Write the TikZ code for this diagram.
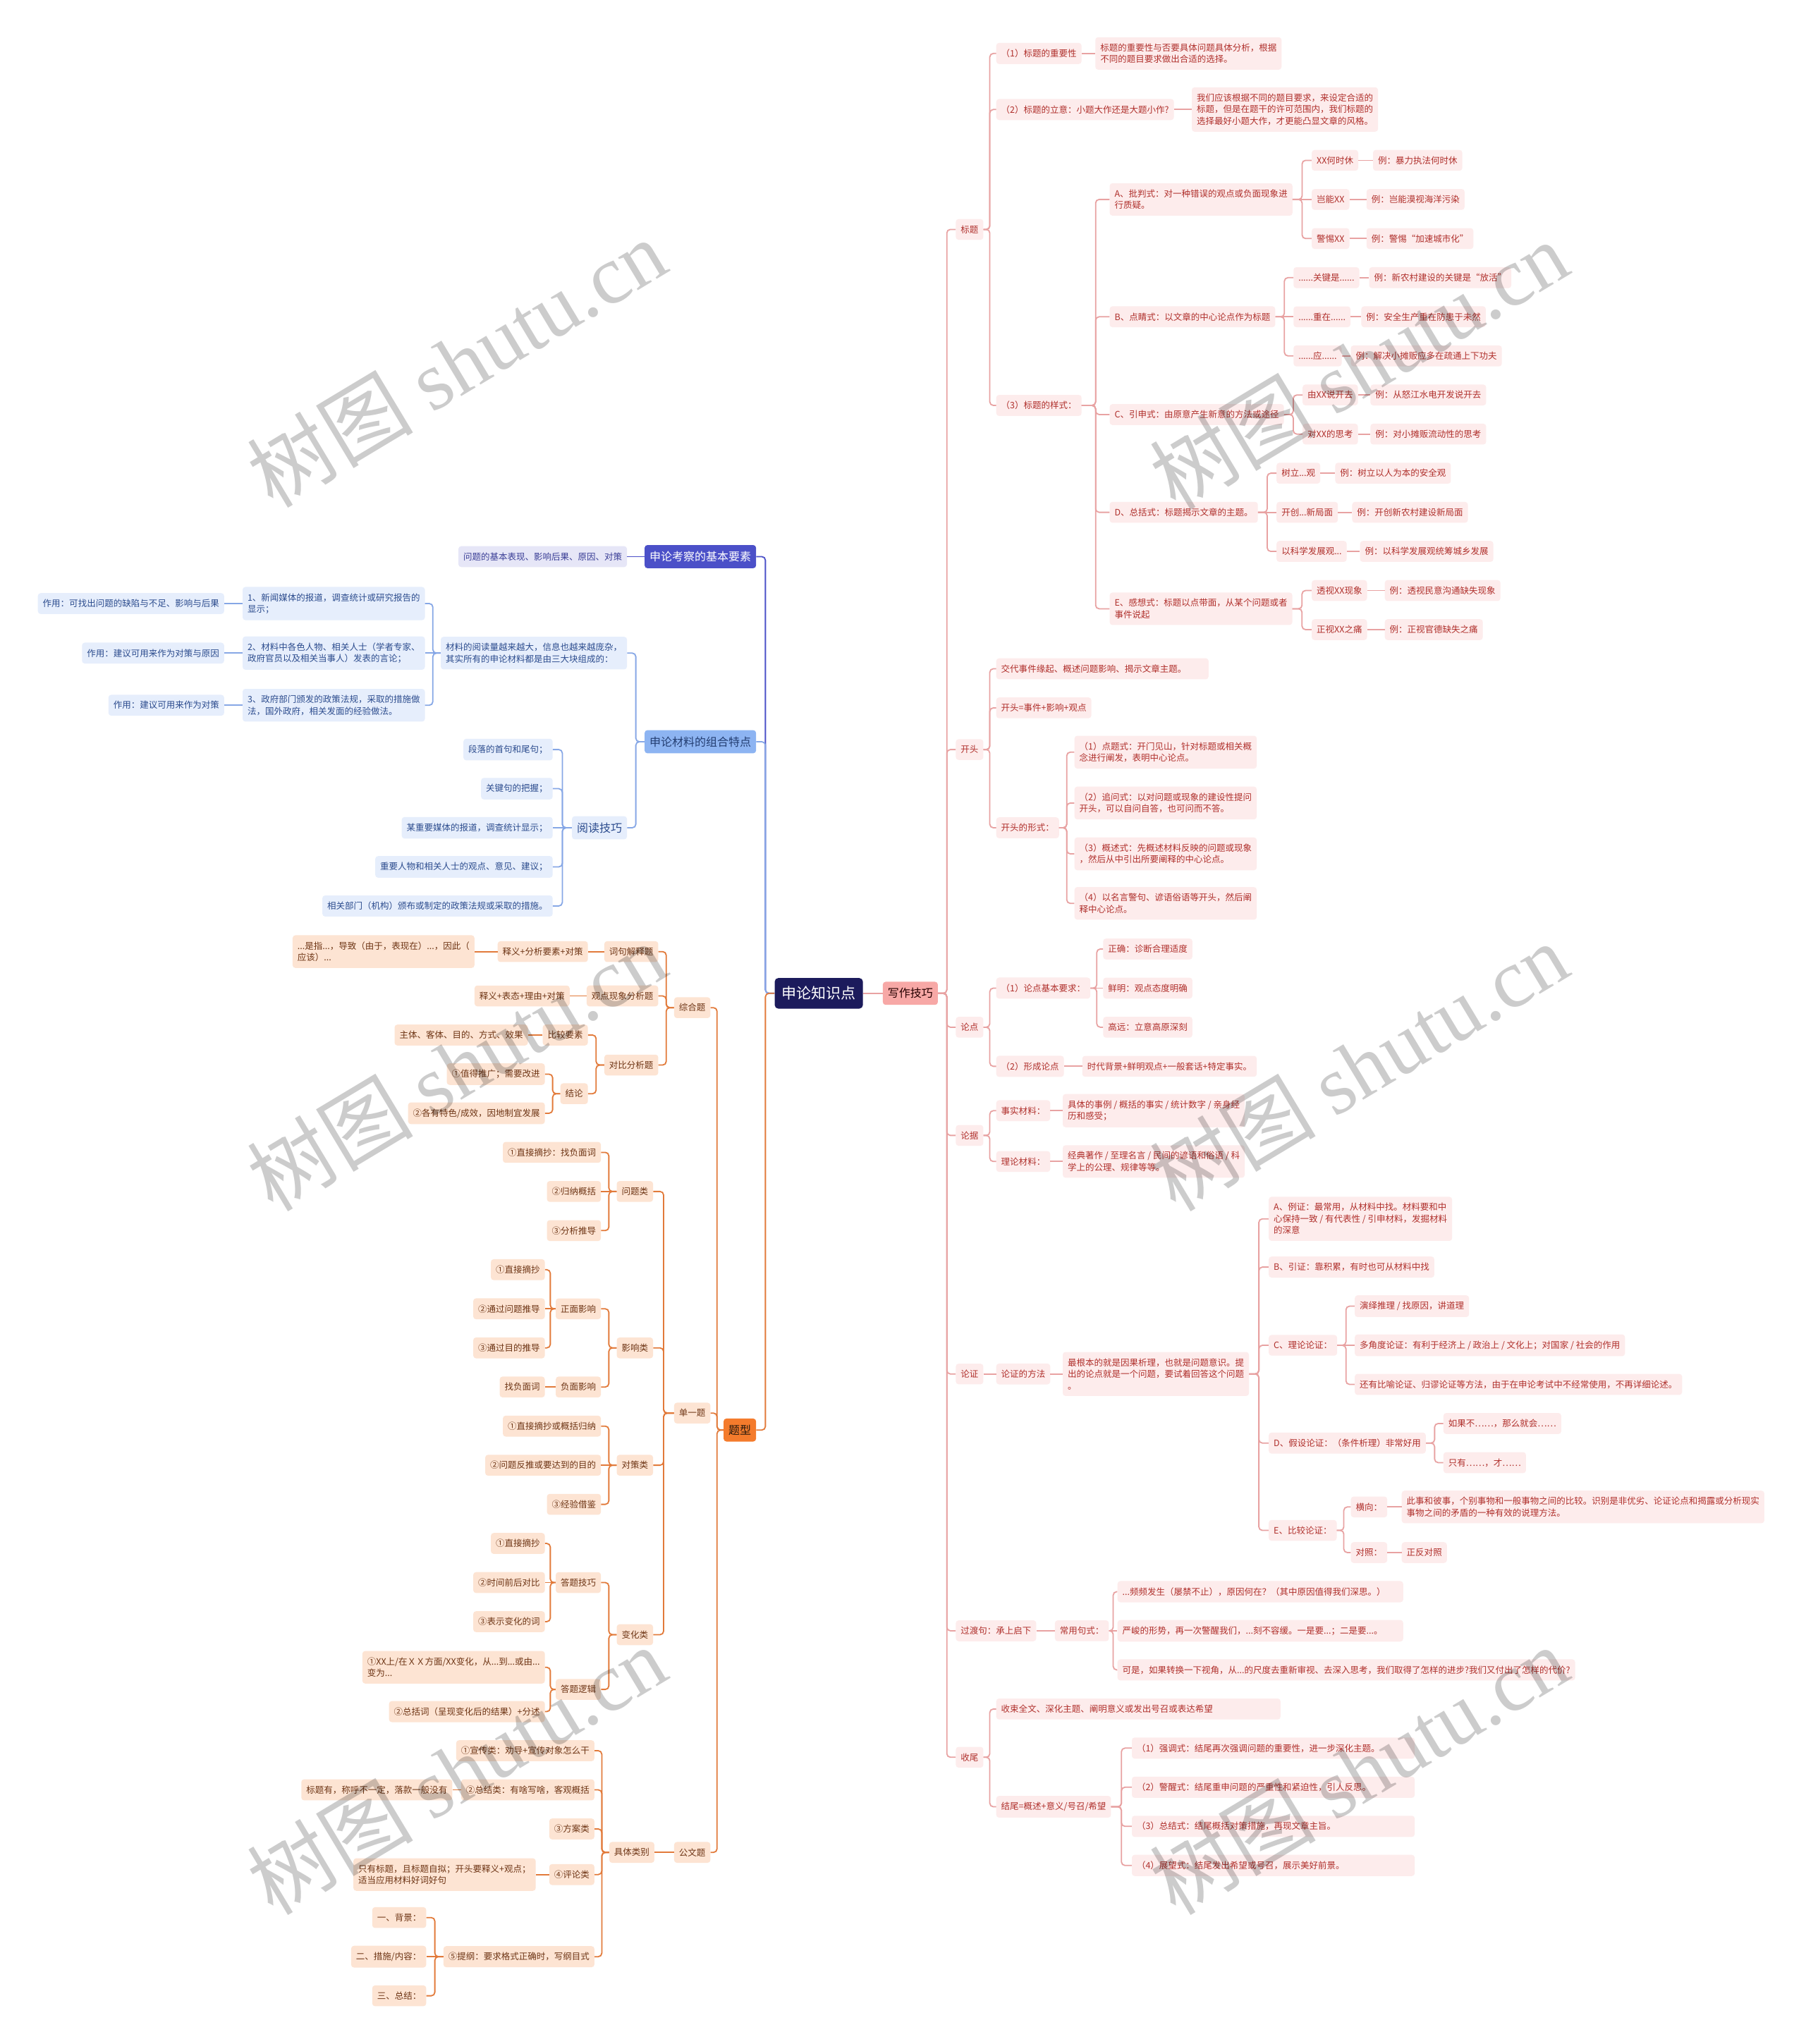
\documentclass[tikz,border=0pt]{standalone}
\usepackage{fontspec}
\setmainfont{Noto Sans CJK SC}
\newfontfamily\wmserif{Liberation Serif}
\usetikzlibrary{calc}
\definecolor{rline}{HTML}{E8A2A2}
\definecolor{rfill}{HTML}{FDECEC}
\definecolor{rtext}{HTML}{B0302C}
\definecolor{bline}{HTML}{86A7E6}
\definecolor{bfill}{HTML}{E6EEFC}
\definecolor{btext}{HTML}{2C4C8E}
\definecolor{iline}{HTML}{4B50C8}
\definecolor{ifill}{HTML}{E6E6F7}
\definecolor{itext}{HTML}{3A3E96}
\definecolor{oline}{HTML}{E27A3A}
\definecolor{ofill}{HTML}{FDE4D3}
\definecolor{otext}{HTML}{6E3515}
\definecolor{rootc}{HTML}{1C1B5C}
\definecolor{wzfill}{HTML}{F7A8A6}
\definecolor{txfill}{HTML}{F47B2C}
\definecolor{clfill}{HTML}{8DB4F2}
\newcommand\fsS{\fontsize{12.5}{16.5}\selectfont}
\newcommand\fsM{\fontsize{16}{20}\selectfont}
\newcommand\fsL{\fontsize{21}{25}\selectfont}
\newcommand\kidsR[3]{\foreach \kid in {#3}{\draw[#1] (#2.east) -- ($(#2.east)!0.5!(#2.east -| \kid.west)$) |- (\kid.west);}}
\newcommand\kidsL[3]{\foreach \kid in {#3}{\draw[#1] (#2.west) -- ($(#2.west)!0.5!(#2.west -| \kid.east)$) |- (\kid.east);}}
\newcommand\lineR[3]{\foreach \kid in {#3}{\draw[#1] (#2.east) -- (\kid.west);}}
\newcommand\lineL[3]{\foreach \kid in {#3}{\draw[#1] (#2.west) -- (\kid.east);}}
\begin{document}
\begin{tikzpicture}[x=1.8484pt,y=-1.8484pt,
  mbox/.style={rounded corners=4pt, inner xsep=7pt, inner ysep=9pt, align=left, font=\fsS},
  rn/.style={mbox, fill=rfill, text=rtext, anchor=west},
  bn/.style={mbox, fill=bfill, text=btext, anchor=east},
  vn/.style={mbox, fill=ifill, text=itext, anchor=east},
  orn/.style={mbox, fill=ofill, text=otext, anchor=east},
  rl/.style={draw=rline, line width=1.8pt, rounded corners=5pt},
  bl/.style={draw=bline, line width=1.8pt, rounded corners=5pt},
  il/.style={draw=iline, line width=1.8pt, rounded corners=5pt},
  ol/.style={draw=oline, line width=1.8pt, rounded corners=5pt},
  wm/.style={rotate=31, text=black, opacity=0.2, font=\fontsize{118}{118}\selectfont}]
\fill[white] (0,0) rectangle (1385,1568);
\useasboundingbox (0,0) rectangle (1385,1568);

% ---------- root ----------
\node[fill=rootc, text=white, rounded corners=5pt, inner xsep=10pt, inner ysep=12pt, font=\fsL] (root) at (628,762) {申论知识点};
\node[fill=wzfill, text=black!75!red!60!black, rounded corners=4pt, inner xsep=7pt, inner ysep=9pt, font=\fsM, anchor=west] (wz) at (677,762) {写作技巧};

% ---------- right level 1 ----------
\node[rn] (bt) at (733,176) {标题};
\node[rn] (kt) at (733,575) {开头};
\node[rn] (ld) at (733,788) {论点};
\node[rn] (lj) at (733,871) {论据};
\node[rn] (lz) at (733,1054) {论证};
\node[rn] (gd) at (733,1251) {过渡句：承上启下};
\node[rn] (sw) at (733,1348) {收尾};

% ---------- 标题 ----------
\node[rn] (bt1) at (764,41) {（1）标题的重要性};
\node[rn] (bt1d) at (840,41) {标题的重要性与否要具体问题具体分析，根据\\不同的题目要求做出合适的选择。};
\node[rn] (bt2) at (764,84) {（2）标题的立意：小题大作还是大题小作?};
\node[rn] (bt2d) at (914,84) {我们应该根据不同的题目要求，来设定合适的\\标题，但是在题干的许可范围内，我们标题的\\选择最好小题大作，才更能凸显文章的风格。};
\node[rn] (bt3) at (764,311) {（3）标题的样式：};

\node[rn] (tA) at (851,153) {A、批判式：对一种错误的观点或负面现象进\\行质疑。};
\node[rn] (tB) at (851,243) {B、点睛式：以文章的中心论点作为标题};
\node[rn] (tC) at (851,318) {C、引申式：由原意产生新意的方法或途径};
\node[rn] (tD) at (851,393) {D、总括式：标题揭示文章的主题。};
\node[rn] (tE) at (851,467) {E、感想式：标题以点带面，从某个问题或者\\事件说起};

\node[rn] (a1) at (1006,123) {XX何时休};
\node[rn] (a2) at (1006,153) {岂能XX};
\node[rn] (a3) at (1006,183) {警惕XX};
\node[rn] (a1e) at (1053,123) {例：暴力执法何时休};
\node[rn] (a2e) at (1048,153) {例：岂能漠视海洋污染};
\node[rn] (a3e) at (1048,183) {例：警惕“加速城市化”};

\node[rn] (b1) at (992,213) {......关键是......};
\node[rn] (b2) at (992,243) {......重在......};
\node[rn] (b3) at (992,273) {......应......};
\node[rn] (b1e) at (1050,213) {例：新农村建设的关键是“放活”};
\node[rn] (b2e) at (1044,243) {例：安全生产重在防患于未然};
\node[rn] (b3e) at (1036,273) {例：解决小摊贩应多在疏通上下功夫};

\node[rn] (c1) at (999,303) {由XX说开去};
\node[rn] (c2) at (999,333) {对XX的思考};
\node[rn] (c1e) at (1051,303) {例：从怒江水电开发说开去};
\node[rn] (c2e) at (1051,333) {例：对小摊贩流动性的思考};

\node[rn] (d1) at (979,363) {树立...观};
\node[rn] (d2) at (979,393) {开创...新局面};
\node[rn] (d3) at (979,423) {以科学发展观...};
\node[rn] (d1e) at (1024,363) {例：树立以人为本的安全观};
\node[rn] (d2e) at (1037,393) {例：开创新农村建设新局面};
\node[rn] (d3e) at (1043,423) {例：以科学发展观统筹城乡发展};

\node[rn] (e1) at (1006,453) {透视XX现象};
\node[rn] (e2) at (1006,483) {正视XX之痛};
\node[rn] (e1e) at (1062,453) {例：透视民意沟通缺失现象};
\node[rn] (e2e) at (1062,483) {例：正视官德缺失之痛};

% ---------- 开头 ----------
\node[rn, text width=287pt] (k1) at (764,513) {交代事件缘起、概述问题影响、揭示文章主题。};
\node[rn] (k2) at (764,543) {开头=事件+影响+观点};
\node[rn] (k3) at (764,635) {开头的形式：};
\node[rn] (k31) at (824,577) {（1）点题式：开门见山，针对标题或相关概\\念进行阐发，表明中心论点。};
\node[rn] (k32) at (824,616) {（2）追问式：以对问题或现象的建设性提问\\开头，可以自问自答，也可问而不答。};
\node[rn] (k33) at (824,655) {（3）概述式：先概述材料反映的问题或现象\\，然后从中引出所要阐释的中心论点。};
\node[rn] (k34) at (824,693) {（4）以名言警句、谚语俗语等开头，然后阐\\释中心论点。};

% ---------- 论点 ----------
\node[rn] (ld1) at (764,758) {（1）论点基本要求：};
\node[rn] (ld2) at (764,818) {（2）形成论点};
\node[rn] (ld11) at (846,728) {正确：诊断合理适度};
\node[rn] (ld12) at (846,758) {鲜明：观点态度明确};
\node[rn] (ld13) at (846,788) {高远：立意高原深刻};
\node[rn] (ld21) at (830,818) {时代背景+鲜明观点+一般套话+特定事实。};

% ---------- 论据 ----------
\node[rn] (lj1) at (764,852) {事实材料：};
\node[rn] (lj2) at (764,891) {理论材料：};
\node[rn] (lj1d) at (815,852) {具体的事例 / 概括的事实 / 统计数字 / 亲身经\\历和感受；};
\node[rn] (lj2d) at (815,891) {经典著作 / 至理名言 / 民间的谚语和俗语 / 科\\学上的公理、规律等等。};

% ---------- 论证 ----------
\node[rn] (lz1) at (764,1054) {论证的方法};
\node[rn] (lz1d) at (815,1054) {最根本的就是因果析理，也就是问题意识。提\\出的论点就是一个问题，要试着回答这个问题\\。};
\node[rn] (lzA) at (973,935) {A、例证：最常用，从材料中找。材料要和中\\心保持一致 / 有代表性 / 引申材料，发掘材料\\的深意};
\node[rn] (lzB) at (973,972) {B、引证：靠积累，有时也可从材料中找};
\node[rn] (lzC) at (973,1032) {C、理论论证：};
\node[rn] (lzD) at (973,1107) {D、假设论证：（条件析理）非常好用};
\node[rn] (lzE) at (973,1174) {E、比较论证：};
\node[rn] (lzC1) at (1039,1002) {演绎推理 / 找原因，讲道理};
\node[rn] (lzC2) at (1039,1032) {多角度论证：有利于经济上 / 政治上 / 文化上；对国家 / 社会的作用};
\node[rn] (lzC3) at (1039,1062) {还有比喻论证、归谬论证等方法，由于在申论考试中不经常使用，不再详细论述。};
\node[rn] (lzD1) at (1107,1092) {如果不……，那么就会……};
\node[rn] (lzD2) at (1107,1122) {只有……，才……};
\node[rn] (lzE1) at (1036,1156) {横向：};
\node[rn] (lzE2) at (1036,1191) {对照：};
\node[rn] (lzE1d) at (1075,1156) {此事和彼事，个别事物和一般事物之间的比较。识别是非优劣、论证论点和揭露或分析现实\\事物之间的矛盾的一种有效的说理方法。};
\node[rn] (lzE2d) at (1075,1191) {正反对照};

% ---------- 过渡句 ----------
\node[rn] (gd1) at (809,1251) {常用句式：};
\node[rn, text width=391pt] (gd11) at (857,1221) {...频频发生（屡禁不止），原因何在？（其中原因值得我们深思。）};
\node[rn, text width=391pt] (gd12) at (857,1251) {严峻的形势，再一次警醒我们，...刻不容缓。一是要...；二是要...。};
\node[rn] (gd13) at (857,1281) {可是，如果转换一下视角，从...的尺度去重新审视、去深入思考，我们取得了怎样的进步?我们又付出了怎样的代价?};

% ---------- 收尾 ----------
\node[rn, text width=389pt] (sw1) at (764,1311) {收束全文、深化主题、阐明意义或发出号召或表达希望};
\node[rn] (sw2) at (764,1386) {结尾=概述+意义/号召/希望};
\node[rn, text width=387pt] (sw21) at (868,1341) {（1）强调式：结尾再次强调问题的重要性，进一步深化主题。};
\node[rn, text width=387pt] (sw22) at (868,1371) {（2）警醒式：结尾重申问题的严重性和紧迫性，引人反思。};
\node[rn, text width=387pt] (sw23) at (868,1401) {（3）总结式：结尾概括对策措施，再现文章主旨。};
\node[rn, text width=387pt] (sw24) at (868,1431) {（4）展望式：结尾发出希望或号召，展示美好前景。};

% ---------- left: 申论考察的基本要素 ----------
\node[mbox, fill=iline, text=white, font=\fsM, anchor=east] (kc) at (580,427) {申论考察的基本要素};
\node[vn] (kc1) at (481,427) {问题的基本表现、影响后果、原因、对策};

% ---------- left: 申论材料的组合特点 ----------
\node[mbox, fill=clfill, text=btext!80!black, font=\fsM, anchor=east] (cl) at (580,569) {申论材料的组合特点};
\node[bn] (cl1) at (481,501) {材料的阅读量越来越大，信息也越来越庞杂，\\其实所有的申论材料都是由三大块组成的：};
\node[bn, font=\fsM] (cl2) at (481,635) {阅读技巧};
\node[bn] (m1) at (326,463) {1、新闻媒体的报道，调查统计或研究报告的\\显示；};
\node[bn] (m2) at (326,501) {2、材料中各色人物、相关人士（学者专家、\\政府官员以及相关当事人）发表的言论；};
\node[bn] (m3) at (326,541) {3、政府部门颁发的政策法规，采取的措施做\\法，国外政府，相关发面的经验做法。};
\node[bn] (r1) at (172,463) {作用：可找出问题的缺陷与不足、影响与后果};
\node[bn] (r2) at (172,501) {作用：建议可用来作为对策与原因};
\node[bn] (r3) at (172,541) {作用：建议可用来作为对策};
\node[bn] (rd1) at (424,575) {段落的首句和尾句；};
\node[bn] (rd2) at (424,605) {关键句的把握；};
\node[bn] (rd3) at (424,635) {某重要媒体的报道，调查统计显示；};
\node[bn] (rd4) at (424,665) {重要人物和相关人士的观点、意见、建议；};
\node[bn] (rd5) at (424,695) {相关部门（机构）颁布或制定的政策法规或采取的措施。};

% ---------- left: 题型 ----------
\node[mbox, fill=txfill, text=black!80!brown, font=\fsM, anchor=east] (tx) at (580,1097) {题型};
\node[orn] (zh) at (545,773) {综合题};
\node[orn] (dy) at (545,1084) {单一题};
\node[orn] (gw) at (545,1421) {公文题};

\node[orn] (zh1) at (505,730) {词句解释题};
\node[orn] (zh2) at (505,764) {观点现象分析题};
\node[orn] (zh3) at (505,817) {对比分析题};
\node[orn] (zh1a) at (451,730) {释义+分析要素+对策};
\node[orn] (zh1b) at (364,730) {...是指...，导致（由于，表现在）...，因此（\\应该）...};
\node[orn] (zh2a) at (437,764) {释义+表态+理由+对策};
\node[orn] (zh31) at (451,794) {比较要素};
\node[orn] (zh32) at (451,839) {结论};
\node[orn] (zh31a) at (405,794) {主体、客体、目的、方式、效果};
\node[orn] (zh321) at (418,824) {①值得推广；需要改进};
\node[orn] (zh322) at (418,854) {②各有特色/成效，因地制宜发展};

\node[orn] (wt) at (501,914) {问题类};
\node[orn] (yx) at (501,1034) {影响类};
\node[orn] (dc) at (501,1124) {对策类};
\node[orn] (bh) at (501,1254) {变化类};
\node[orn] (wt1) at (461,884) {①直接摘抄：找负面词};
\node[orn] (wt2) at (461,914) {②归纳概括};
\node[orn] (wt3) at (461,944) {③分析推导};
\node[orn] (zm) at (461,1004) {正面影响};
\node[orn] (fm) at (461,1064) {负面影响};
\node[orn] (zm1) at (418,974) {①直接摘抄};
\node[orn] (zm2) at (418,1004) {②通过问题推导};
\node[orn] (zm3) at (418,1034) {③通过目的推导};
\node[orn] (fm1) at (418,1064) {找负面词};
\node[orn] (dc1) at (461,1094) {①直接摘抄或概括归纳};
\node[orn] (dc2) at (461,1124) {②问题反推或要达到的目的};
\node[orn] (dc3) at (461,1154) {③经验借鉴};
\node[orn] (dj) at (461,1214) {答题技巧};
\node[orn] (dl) at (461,1296) {答题逻辑};
\node[orn] (dj1) at (418,1184) {①直接摘抄};
\node[orn] (dj2) at (418,1214) {②时间前后对比};
\node[orn] (dj3) at (418,1244) {③表示变化的词};
\node[orn] (dl1) at (418,1279) {①XX上/在ＸＸ方面/XX变化，从...到...或由...\\变为...};
\node[orn] (dl2) at (418,1313) {②总括词（呈现变化后的结果）+分述};

\node[orn] (jt) at (502,1421) {具体类别};
\node[orn] (g1) at (456,1343) {①宣传类：劝导+宣传对象怎么干};
\node[orn] (g2) at (456,1373) {②总结类：有啥写啥，客观概括};
\node[orn] (g3) at (456,1403) {③方案类};
\node[orn] (g4) at (456,1438) {④评论类};
\node[orn] (g5) at (456,1501) {⑤提纲：要求格式正确时，写纲目式};
\node[orn] (g2a) at (347,1373) {标题有，称呼不一定，落款一般没有};
\node[orn] (g4a) at (411,1438) {只有标题，且标题自拟；开头要释义+观点；\\适当应用材料好词好句};
\node[orn] (g51) at (327,1471) {一、背景：};
\node[orn] (g52) at (327,1501) {二、措施/内容：};
\node[orn] (g53) at (327,1531) {三、总结：};

% ---------- connectors right ----------
\lineR{rl}{root}{wz}
\kidsR{rl}{wz}{bt,kt,ld,lj,lz,gd,sw}
\kidsR{rl}{bt}{bt1,bt2,bt3}
\lineR{rl}{bt1}{bt1d}
\lineR{rl}{bt2}{bt2d}
\kidsR{rl}{bt3}{tA,tB,tC,tD,tE}
\kidsR{rl}{tA}{a1,a3}
\lineR{rl}{tA}{a2}
\lineR{rl}{a1}{a1e}
\lineR{rl}{a2}{a2e}
\lineR{rl}{a3}{a3e}
\kidsR{rl}{tB}{b1,b3}
\lineR{rl}{tB}{b2}
\lineR{rl}{b1}{b1e}
\lineR{rl}{b2}{b2e}
\lineR{rl}{b3}{b3e}
\kidsR{rl}{tC}{c1,c2}
\lineR{rl}{c1}{c1e}
\lineR{rl}{c2}{c2e}
\kidsR{rl}{tD}{d1,d3}
\lineR{rl}{tD}{d2}
\lineR{rl}{d1}{d1e}
\lineR{rl}{d2}{d2e}
\lineR{rl}{d3}{d3e}
\kidsR{rl}{tE}{e1,e2}
\lineR{rl}{e1}{e1e}
\lineR{rl}{e2}{e2e}
\kidsR{rl}{kt}{k1,k2,k3}
\kidsR{rl}{k3}{k31,k32,k33,k34}
\kidsR{rl}{ld}{ld1,ld2}
\kidsR{rl}{ld1}{ld11,ld13}
\lineR{rl}{ld1}{ld12}
\lineR{rl}{ld2}{ld21}
\kidsR{rl}{lj}{lj1,lj2}
\lineR{rl}{lj1}{lj1d}
\lineR{rl}{lj2}{lj2d}
\lineR{rl}{lz}{lz1}
\lineR{rl}{lz1}{lz1d}
\kidsR{rl}{lz1d}{lzA,lzB,lzC,lzD,lzE}
\kidsR{rl}{lzC}{lzC1,lzC3}
\lineR{rl}{lzC}{lzC2}
\kidsR{rl}{lzD}{lzD1,lzD2}
\kidsR{rl}{lzE}{lzE1,lzE2}
\lineR{rl}{lzE1}{lzE1d}
\lineR{rl}{lzE2}{lzE2d}
\lineR{rl}{gd}{gd1}
\kidsR{rl}{gd1}{gd11,gd13}
\lineR{rl}{gd1}{gd12}
\kidsR{rl}{sw}{sw1,sw2}
\kidsR{rl}{sw2}{sw21,sw22,sw23,sw24}

% ---------- connectors left ----------
\kidsL{il}{root}{kc}
\kidsL{bl}{root}{cl}
\kidsL{ol}{root}{tx}
\lineL{il}{kc}{kc1}
\kidsL{bl}{cl}{cl1,cl2}
\kidsL{bl}{cl1}{m1,m3}
\lineL{bl}{cl1}{m2}
\lineL{bl}{m1}{r1}
\lineL{bl}{m2}{r2}
\lineL{bl}{m3}{r3}
\kidsL{bl}{cl2}{rd1,rd2,rd4,rd5}
\lineL{bl}{cl2}{rd3}
\kidsL{ol}{tx}{zh,dy,gw}
\kidsL{ol}{zh}{zh1,zh2,zh3}
\lineL{ol}{zh1}{zh1a}
\lineL{ol}{zh1a}{zh1b}
\lineL{ol}{zh2}{zh2a}
\kidsL{ol}{zh3}{zh31,zh32}
\lineL{ol}{zh31}{zh31a}
\kidsL{ol}{zh32}{zh321,zh322}
\kidsL{ol}{dy}{wt,yx,dc,bh}
\kidsL{ol}{wt}{wt1,wt3}
\lineL{ol}{wt}{wt2}
\kidsL{ol}{yx}{zm,fm}
\kidsL{ol}{zm}{zm1,zm3}
\lineL{ol}{zm}{zm2}
\lineL{ol}{fm}{fm1}
\kidsL{ol}{dc}{dc1,dc3}
\lineL{ol}{dc}{dc2}
\kidsL{ol}{bh}{dj,dl}
\kidsL{ol}{dj}{dj1,dj3}
\lineL{ol}{dj}{dj2}
\kidsL{ol}{dl}{dl1,dl2}
\lineL{ol}{gw}{jt}
\kidsL{ol}{jt}{g1,g2,g3,g4,g5}
\lineL{ol}{g2}{g2a}
\lineL{ol}{g4}{g4a}
\kidsL{ol}{g5}{g51,g53}
\lineL{ol}{g5}{g52}

% ---------- watermarks ----------
\foreach \wx/\wy [count=\wi] in {350/278,1042/280,350/818,1042/818,350/1358,1042/1358}
  \node[wm] (wm\wi) at (\wx,\wy) {树图 {\wmserif shutu.cn}};
\end{tikzpicture}
\end{document}
